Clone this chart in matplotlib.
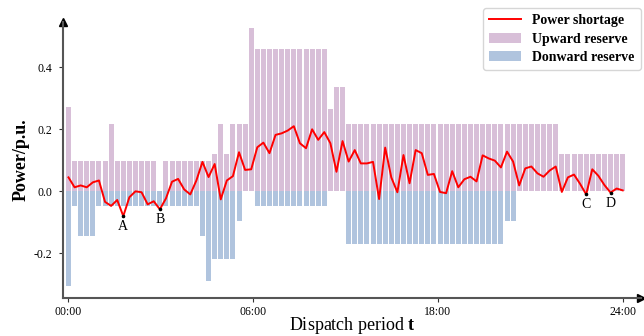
import numpy as np
import matplotlib
matplotlib.use("Agg")
import matplotlib.pyplot as plt

plt.rcParams['font.family'] = ['Liberation Serif', 'DejaVu Serif']
plt.rcParams['mathtext.fontset'] = 'custom'
plt.rcParams['mathtext.rm'] = 'Liberation Serif'
plt.rcParams['mathtext.bf'] = 'Liberation Serif:bold'

# ---- data ----
up_reserve = [0.272, 0.098, 0.098, 0.098, 0.098, 0.098, 0.098, 0.217, 0.098, 0.098,
              0.098, 0.098, 0.098, 0.098, 0.098, 0.0, 0.098, 0.098, 0.098, 0.098,
              0.098, 0.098, 0.098, 0.098, 0.120, 0.217, 0.120, 0.217, 0.217, 0.217,
              0.527, 0.459, 0.459, 0.459, 0.459, 0.459, 0.459, 0.459, 0.459, 0.459,
              0.459, 0.459, 0.459, 0.267, 0.337, 0.337, 0.217, 0.217, 0.217, 0.217,
              0.217, 0.217, 0.217, 0.217, 0.217, 0.217, 0.217, 0.217, 0.217, 0.217,
              0.217, 0.217, 0.217, 0.217, 0.217, 0.217, 0.217, 0.217, 0.217, 0.217,
              0.217, 0.217, 0.217, 0.217, 0.217, 0.217, 0.217, 0.217, 0.217, 0.217,
              0.217, 0.120, 0.120, 0.120, 0.120, 0.120, 0.120, 0.120, 0.120, 0.120,
              0.120, 0.120]

down_reserve = [-0.304, -0.046, -0.143, -0.143, -0.143, -0.046, -0.046, -0.046, -0.046, -0.046,
                -0.046, -0.046, -0.046, -0.046, -0.046, -0.046, -0.046, -0.046, -0.046, -0.046,
                -0.046, -0.046, -0.143, -0.288, -0.217, -0.217, -0.217, -0.217, -0.095, 0.0,
                0.0, -0.046, -0.046, -0.046, -0.046, -0.046, -0.046, -0.046, -0.046, -0.046,
                -0.046, -0.046, -0.046, 0.0, 0.0, 0.0, -0.170, -0.170, -0.170, -0.170,
                -0.170, -0.170, -0.170, -0.170, -0.170, -0.170, -0.170, -0.170, -0.170, -0.170,
                -0.170, -0.170, -0.170, -0.170, -0.170, -0.170, -0.170, -0.170, -0.170, -0.170,
                -0.170, -0.170, -0.095, -0.095, 0.0, 0.0, 0.0, 0.0, 0.0, 0.0,
                0.0, 0.0, 0.0, 0.0, 0.0, 0.0, 0.0, 0.0, 0.0, 0.0,
                0.0, 0.0]

power_shortage = [0.045, 0.013, 0.019, 0.013, 0.029, 0.035, -0.034, -0.047, -0.028, -0.080,
                  -0.019, 0.000, -0.003, -0.042, -0.032, -0.058, -0.023, 0.031, 0.040, 0.006,
                  -0.010, 0.035, 0.095, 0.046, 0.088, -0.026, 0.035, 0.049, 0.126, 0.069,
                  0.071, 0.142, 0.157, 0.123, 0.182, 0.187, 0.196, 0.210, 0.155, 0.139,
                  0.200, 0.166, 0.191, 0.155, 0.063, 0.162, 0.096, 0.133, 0.090, 0.090,
                  0.095, -0.025, 0.141, 0.045, -0.003, 0.117, 0.026, 0.133, 0.123, 0.053,
                  0.056, -0.002, -0.006, 0.065, 0.013, 0.039, 0.047, 0.032, 0.116, 0.106,
                  0.099, 0.077, 0.128, 0.096, 0.019, 0.074, 0.080, 0.058, 0.047, 0.067,
                  0.080, -0.002, 0.045, 0.054, 0.024, -0.010, 0.071, 0.050, 0.020, -0.004,
                  0.009, 0.003]

point_labels = ['A', 'B', 'C', 'D']
point_index = [9, 15, 85, 89]

xtick_labels = ['00:00', '06:00', '18:00', '24:00']
ytick_values = [-0.2, 0.0, 0.2, 0.4]

# ---- figure ----
fig = plt.figure(figsize=(6.44, 3.36), dpi=100)
ax_h = (298 - 22) / 336
ax_w = (641 - 63) / 644
ax = fig.add_axes([63/644, 1 - 298/336, ax_w, ax_h])

n = len(power_shortage)
x = np.arange(n)

ax.bar(x, up_reserve, width=0.82, color='#D8BFD8', label='Upward reserve', zorder=1)
ax.bar(x, down_reserve, width=0.82, color='#B0C4DE', label='Donward reserve', zorder=1)
ax.plot(x, power_shortage, color='red', lw=1.4, label='Power shortage', zorder=3)

for lab, idx in zip(point_labels, point_index):
    ax.plot(x[idx], power_shortage[idx], 'o', color='black', ms=1.6, zorder=4)
    ax.annotate(lab, (x[idx], power_shortage[idx]), xytext=(0, -4),
                textcoords='offset pixels', ha='center', va='top', fontsize=10)

ax.set_xlim(-0.9, 94.0)
ax.set_ylim(-0.344, 0.546)

ax.set_xticks(np.linspace(0, n - 1, 4))
ax.set_xticklabels(xtick_labels, fontsize=8.5)
ax.set_yticks(ytick_values)
ax.set_yticklabels(['%.1f' % v for v in ytick_values], fontsize=8.5)
ax.tick_params(axis='both', length=3, width=0.8, colors='#333333', labelcolor='black')
ax.tick_params(axis='y', pad=5)
ax.tick_params(axis='x', pad=3)

for s in ['top', 'right']:
    ax.spines[s].set_visible(False)
for s in ['left', 'bottom']:
    ax.spines[s].set_color('#555555')
    ax.spines[s].set_linewidth(1.5)

ax.plot(1, 0, '>k', ms=6, transform=ax.transAxes, clip_on=False)
ax.plot(0, 1, '^k', ms=6, transform=ax.transAxes, clip_on=False)

ax.set_xlabel('Dispatch period $\\mathbf{t}$', fontsize=13, va='center')
ax.xaxis.set_label_coords(0.5, -(325 - 298) / (ax_h * 336))
ax.set_ylabel('Power/p.u.', fontsize=13, fontweight='bold', va='center')
ax.yaxis.set_label_coords(-(63 - 21) / (ax_w * 644), 0.5)

handles, labels = ax.get_legend_handles_labels()
order = [labels.index('Power shortage'), labels.index('Upward reserve'), labels.index('Donward reserve')]
leg = ax.legend([handles[i] for i in order], [labels[i] for i in order],
                loc='upper right', bbox_to_anchor=(641/644, 1 - 8/336),
                bbox_transform=fig.transFigure, borderaxespad=0,
                prop={'weight': 'bold', 'size': 10}, handlelength=2.3,
                labelspacing=0.38, borderpad=0.45, frameon=True, fancybox=True,
                edgecolor='#cccccc')

fig.savefig('out.png', dpi=100)
